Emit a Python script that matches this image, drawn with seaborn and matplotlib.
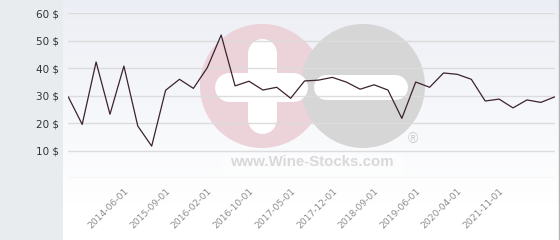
import numpy as np
import pandas as pd
import matplotlib
matplotlib.use("Agg")
import matplotlib.pyplot as plt
import seaborn as sns
from matplotlib.patches import Circle, Rectangle

# ---- data ----
prices = [29.6, 19.6, 42.3, 23.3, 40.8, 19.0, 11.7, 32.0, 36.0, 32.7,
          40.2, 52.1, 33.6, 35.3, 32.1, 33.1, 29.1, 35.4, 35.7, 36.7,
          35.0, 32.4, 34.0, 32.1, 21.8, 35.0, 33.1, 38.3, 37.8, 36.0,
          28.1, 28.8, 25.6, 28.5, 27.6, 29.6]
tick_positions = [4, 7, 10, 13, 16, 19, 22, 25, 28, 31]
tick_labels = ["2014-06-01", "2015-09-01", "2016-02-01", "2016-10-01",
               "2017-05-01", "2017-12-01", "2018-09-01", "2019-06-01",
               "2020-04-01", "2021-11-01"]
y_ticks = [0, 10, 20, 30, 40, 50, 60]
y_labels = ["", "10 $", "20 $", "30 $", "40 $", "50 $", "60 $"]

df = pd.DataFrame({"idx": np.arange(len(prices)), "price": prices})

sns.set_style("white")
plt.rcParams["font.family"] = ["DejaVu Sans"]

W, H = 560, 240
fig = plt.figure(figsize=(W / 100, H / 100), dpi=100)
fig.patch.set_facecolor("#e8ecef")

# gradient background of the plot panel
bg = fig.add_axes([63 / W, 0, (559 - 63) / W, 1], zorder=0)
top = np.array([0.925, 0.935, 0.960])
bot = np.array([1.0, 1.0, 1.0])
t = np.clip(np.linspace(0, 1, 240) / 0.85, 0, 1)[:, None]
grad = (top * (1 - t) + bot * t)[:, None, :]
bg.imshow(grad, aspect="auto", extent=[0, 1, 0, 1], origin="upper")
bg.set_axis_off()

# right border
fig.patches.append(Rectangle((558.5 / W, 0), 1.2 / W, 1, transform=fig.transFigure,
                             color="#b4b4b4", zorder=1))

# watermark layer in pixel coordinates
wm = fig.add_axes([0, 0, 1, 1], zorder=1)
wm.set_xlim(0, W)
wm.set_ylim(H, 0)
wm.set_axis_off()
wm.patch.set_alpha(0)
wm.add_patch(Circle((262, 86), 62, color="#ecd2d9", lw=0))
wm.add_patch(Circle((363, 86), 62, color="#d6d6d6", lw=0))
pt = 72 / 100
wm.plot([262, 262], [52.5, 118.5], color="white", lw=29 * pt, solid_capstyle="round")
wm.plot([228.5, 292.5], [86.5, 86.5], color="white", lw=29 * pt, solid_capstyle="round")
wm.plot([326, 395], [86.5, 86.5], color="white", lw=25 * pt, solid_capstyle="round")
wm.add_patch(Rectangle((222, 150), 182, 25, color="white", alpha=0.4, lw=0))
wm.text(413, 139, "®", fontsize=10, color="#cdcdcd", ha="center", va="center",
        family="Liberation Sans")
wm.text(312, 162, "www.Wine-Stocks.com", fontsize=10.8, color="#d9d9d9",
        ha="center", va="center", fontweight="bold", family="Liberation Sans")

# main chart
x0, x1 = 68.3, 554.7
y0, y1 = 178.3, 13.3
ax = fig.add_axes([x0 / W, (H - y0) / H, (x1 - x0) / W, (y0 - y1) / H], zorder=2)
ax.patch.set_alpha(0)
sns.lineplot(data=df, x="idx", y="price", ax=ax, color="#3b2230", lw=0.9)
ax.set_xlim(0, len(prices) - 1)
ax.set_ylim(0, 60)
ax.set_yticks(y_ticks)
ax.set_yticklabels(y_labels, fontsize=7.5, color="#333333")
ax.set_xticks(tick_positions)
ax.set_xticklabels(tick_labels, fontsize=6.6, color="#8c8c8c", rotation=45,
                   ha="right", va="top", rotation_mode="anchor")
ax.tick_params(axis="both", length=0)
ax.tick_params(axis="y", pad=7)
ax.tick_params(axis="x", pad=6)
ax.grid(axis="y", color="#dcdcdc", lw=1)
ax.grid(axis="x", visible=False)
ax.set_axisbelow(True)
for s in ax.spines.values():
    s.set_visible(False)
ax.set_xlabel("")
ax.set_ylabel("")

fig.savefig("out.png", dpi=100)
